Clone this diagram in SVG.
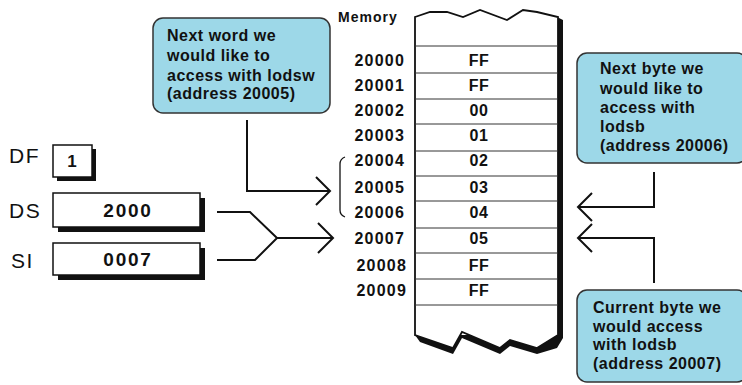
<svg xmlns="http://www.w3.org/2000/svg" width="742" height="385" viewBox="0 0 742 385">
<style>
.lbl{font-family:"Liberation Sans",Arial,sans-serif;font-weight:bold;font-size:16px;fill:#111;letter-spacing:0.5px}
.addr{font-family:"Liberation Sans",Arial,sans-serif;font-weight:bold;font-size:16px;fill:#111;text-anchor:end;letter-spacing:1.2px}
.val{font-family:"Liberation Sans",Arial,sans-serif;font-weight:bold;font-size:16px;fill:#111;text-anchor:middle;letter-spacing:0.5px}
.rv{font-family:"Liberation Sans",Arial,sans-serif;font-weight:bold;font-size:19px;fill:#111;text-anchor:middle;letter-spacing:1.8px}
.reg{font-family:"Liberation Sans",Arial,sans-serif;font-size:21px;fill:#111;letter-spacing:1.5px}
.call{fill:#9dd8e8;stroke:#333;stroke-width:1.5}
.box{fill:#fff;stroke:#111;stroke-width:1.5}
.shadow{fill:#111}
.conn{fill:none;stroke:#111;stroke-width:2}
.row{stroke:#333;stroke-width:1}
</style>
<rect width="742" height="385" fill="#fff"/>

<g id="callout-lodsw">
<rect class="call" x="153" y="18" width="177" height="95" rx="10"/>
<text class="lbl" x="167" y="41">Next word we</text>
<text class="lbl" x="167" y="61">would like to</text>
<text class="lbl" x="167" y="81">access with lodsw</text>
<text class="lbl" x="167" y="99">(address 20005)</text>
</g>

<g id="callout-next-byte">
<rect class="call" x="577" y="53" width="170" height="110" rx="10"/>
<text class="lbl" x="600" y="74">Next byte we</text>
<text class="lbl" x="600" y="94">would like to</text>
<text class="lbl" x="600" y="113">access with</text>
<text class="lbl" x="600" y="132">lodsb</text>
<text class="lbl" x="600" y="151">(address 20006)</text>
</g>

<g id="callout-current-byte">
<rect class="call" x="577" y="290" width="170" height="92" rx="10"/>
<text class="lbl" x="593" y="313">Current byte we</text>
<text class="lbl" x="593" y="332">would access</text>
<text class="lbl" x="593" y="350">with lodsb</text>
<text class="lbl" x="593" y="369">(address 20007)</text>
</g>

<g id="reg-df">
<text class="reg" x="9" y="163">DF</text>
<rect class="shadow" x="57" y="149" width="39" height="32"/>
<rect class="box" x="53" y="145" width="39" height="32"/>
<text class="rv" x="73" y="167" style="font-size:17px">1</text>
</g>

<g id="reg-ds">
<text class="reg" x="9" y="218">DS</text>
<rect class="shadow" x="58" y="198" width="147" height="34"/>
<rect class="box" x="53" y="193" width="147" height="34"/>
<text class="rv" x="128" y="217">2000</text>
</g>

<g id="reg-si">
<text class="reg" x="11" y="268">SI</text>
<rect class="shadow" x="58" y="248" width="147" height="32"/>
<rect class="box" x="53" y="243" width="147" height="32"/>
<text class="rv" x="128" y="266">0007</text>
</g>

<g id="memory">
<text class="lbl" x="338" y="22" style="font-size:14px;letter-spacing:1px">Memory</text>
<path class="shadow" d="M557 17 L563 20 L563 338 L557 348 L537 354 L510 346 L500 354 L462 338 L453 354 L420 342 L415 335 L557 335 Z"/>
<path fill="#fff" stroke="#111" stroke-width="1.8" d="M415 17 L430 12 L447 12 L463 17 L480 10 L507 20 L523 10 L537 12 L558 17 L558 335 L537 348 L510 340 L500 348 L462 332 L453 348 L415 335 Z"/>
<g class="row">
<line x1="415" y1="46" x2="558" y2="46"/>
<line x1="415" y1="73" x2="558" y2="73"/>
<line x1="415" y1="99" x2="558" y2="99"/>
<line x1="415" y1="124" x2="558" y2="124"/>
<line x1="415" y1="151" x2="558" y2="151"/>
<line x1="415" y1="176" x2="558" y2="176"/>
<line x1="415" y1="201" x2="558" y2="201"/>
<line x1="415" y1="228" x2="558" y2="228"/>
<line x1="415" y1="253" x2="558" y2="253"/>
<line x1="415" y1="279" x2="558" y2="279"/>
<line x1="415" y1="305" x2="558" y2="305"/>
</g>
<text class="addr" x="405" y="66">20000</text>
<text class="addr" x="405" y="91">20001</text>
<text class="addr" x="405" y="116">20002</text>
<text class="addr" x="405" y="141">20003</text>
<text class="addr" x="405" y="166">20004</text>
<text class="addr" x="405" y="193">20005</text>
<text class="addr" x="405" y="218">20006</text>
<text class="addr" x="405" y="244">20007</text>
<text class="addr" x="407" y="271">20008</text>
<text class="addr" x="407" y="296">20009</text>
<text class="val" x="479" y="66">FF</text>
<text class="val" x="479" y="91">FF</text>
<text class="val" x="479" y="116">00</text>
<text class="val" x="479" y="141">01</text>
<text class="val" x="479" y="166">02</text>
<text class="val" x="479" y="193">03</text>
<text class="val" x="479" y="218">04</text>
<text class="val" x="479" y="244">05</text>
<text class="val" x="479" y="271">FF</text>
<text class="val" x="479" y="296">FF</text>
<path fill="none" stroke="#111" stroke-width="1.3" d="M345 157 Q340 159 340 164 L340 210 Q340 215 345 217"/>
</g>

<g id="connectors">
<path class="conn" d="M247 120 L247 191 L330 191"/>
<path class="conn" d="M316 177 L330 191 L316 205"/>
<path class="conn" d="M217 212 L250 212 L277 238 M217 260 L255 260 L277 238 L332 238"/>
<path class="conn" d="M318 223 L333 238 L318 253"/>
<path class="conn" d="M654 172 L654 207 L578 207"/>
<path class="conn" d="M592 193 L578 207 L592 221"/>
<path class="conn" d="M654 283 L654 238 L578 238"/>
<path class="conn" d="M592 224 L578 238 L592 252"/>
</g>
</svg>
